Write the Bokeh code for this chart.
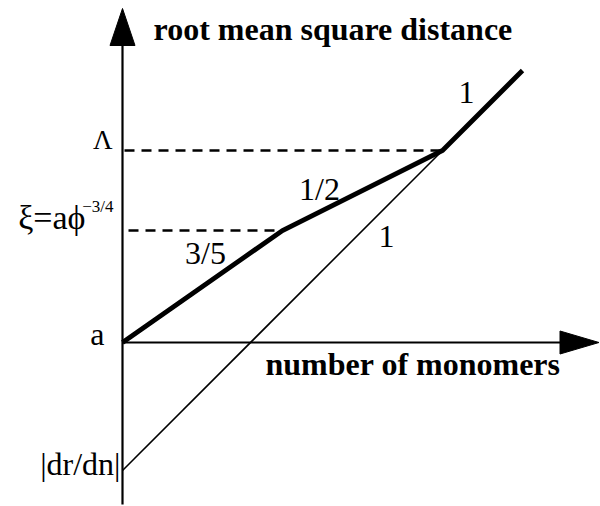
from bokeh.plotting import figure
from bokeh.models import Range1d
from bokeh.core.properties import value
from bokeh.embed import file_html
from bokeh.resources import INLINE

# ---- schematic data (log n, log r) ----
log_n = [0, 4, 8, 10]              # a, crossover xi, crossover Lambda, end
log_r = [0, 2.8, 4.8, 6.8]
exponents = ["3/5", "1/2", "1"]
ballistic_n = [0, 8]
ballistic_r = [-3.2, 4.8]
ballistic_exponent = "1"
tick_values = [4.8, 2.8, 0, -3.2]
tick_labels = ["Λ", "ξ=aϕ", "a", "|dr/dn|"]
xi_superscript = "−3/4"
y_title = "root mean square distance"
x_title = "number of monomers"

PX = 40.0  # pixels per data unit (both axes)
W, H = 600, 506
x0 = -122 / PX
x1 = x0 + W / PX
y1 = 342 / PX
y0 = y1 - H / PX
DY = -10  # baseline correction for svg text

p = figure(width=W, height=H, output_backend="svg", toolbar_location=None,
           x_range=Range1d(x0, x1), y_range=Range1d(y0, y1),
           min_border=0, outline_line_color=None, background_fill_color="white",
           border_fill_color="white")
p.xaxis.visible = False
p.yaxis.visible = False
p.xgrid.visible = False
p.ygrid.visible = False

FONT = value("Liberation Serif")
BLACK = "black"

# ---- axes with arrow heads ----
ytip = y1 - 8 / PX
yhead_len = 37 / PX
yhead_hw = 12.5 / PX
p.segment(x0=[0], y0=[y0 + 2 / PX], x1=[0], y1=[ytip - yhead_len + 0.1], line_color=BLACK, line_width=2.2)
p.patch(x=[-yhead_hw, 0, yhead_hw], y=[ytip - yhead_len, ytip, ytip - yhead_len],
        fill_color=BLACK, line_color=BLACK, line_width=1)

xtip = x1 - 1.5 / PX
xhead_len = 39 / PX
xhead_hw = 11.5 / PX
p.segment(x0=[0], y0=[0], x1=[xtip - xhead_len + 0.1], y1=[0], line_color=BLACK, line_width=2.2)
p.patch(x=[xtip - xhead_len, xtip, xtip - xhead_len], y=[-xhead_hw, 0, xhead_hw],
        fill_color=BLACK, line_color=BLACK, line_width=1)

# ---- dashed guide lines to the crossovers ----
p.segment(x0=[0.05, 0.15], y0=[log_r[2], log_r[1]], x1=[log_n[2], log_n[1]], y1=[log_r[2], log_r[1]],
          line_color=BLACK, line_width=2.6, line_dash="10 7")

# ---- ballistic (thin) line ----
p.line(ballistic_n, ballistic_r, line_color=BLACK, line_width=1.6)

# ---- scaling curve (thick) ----
p.line(log_n, log_r, line_color=BLACK, line_width=4.8, line_join="miter")

# ---- exponent labels at segment midpoints ----
mid_n = [(log_n[i] + log_n[i + 1]) / 2 for i in range(3)]
mid_r = [(log_r[i] + log_r[i + 1]) / 2 for i in range(3)]
p.text(x=mid_n, y=mid_r, text=exponents, x_offset=[3, -43, -16],
       y_offset=[-24 + DY, 8 + DY, -8 + DY],
       text_font=FONT, text_font_size="32px", text_align="center",
       text_baseline="alphabetic", text_color=BLACK)
bx = 6.5
by = ballistic_r[0] + (ballistic_r[1] - ballistic_r[0]) * (bx - ballistic_n[0]) / (ballistic_n[1] - ballistic_n[0])
p.text(x=[bx], y=[by], text=[ballistic_exponent], x_offset=[4], y_offset=[36 + DY],
       text_font=FONT, text_font_size="32px", text_align="center",
       text_baseline="alphabetic", text_color=BLACK)

# ---- y tick labels ----
p.text(x=[0, 0, 0, 0], y=tick_values, text=tick_labels,
       x_offset=[-10, -37, -18, -2], y_offset=[-1 + DY, -3 + DY, 1 + DY, 3 + DY],
       text_font=FONT, text_font_size=["27px", "34px", "32px", "32px"], text_align="right",
       text_baseline="alphabetic", text_color=BLACK)
p.text(x=[0], y=[tick_values[1]], text=[xi_superscript], x_offset=[-9], y_offset=[-14 + DY],
       text_font=FONT, text_font_size="17px", text_align="right",
       text_baseline="alphabetic", text_color=BLACK)

# ---- axis titles ----
p.text(x=[0], y=[ytip], text=[y_title], x_offset=[31], y_offset=[30 + DY],
       text_font=FONT, text_font_size="32px", text_font_style="bold",
       text_align="left", text_baseline="alphabetic", text_color=BLACK)
p.text(x=[0], y=[0], text=[x_title], x_offset=[143], y_offset=[31 + DY],
       text_font=FONT, text_font_size="32px", text_font_style="bold",
       text_align="left", text_baseline="alphabetic", text_color=BLACK)

open("out.html", "w").write(file_html(p, INLINE))
